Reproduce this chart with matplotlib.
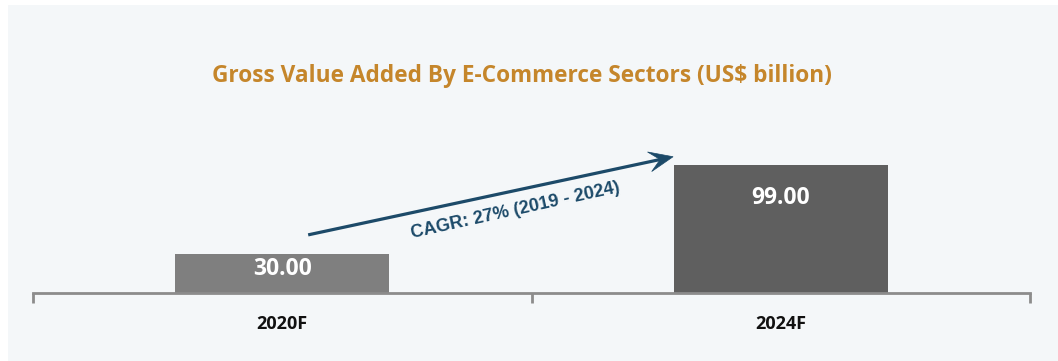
import matplotlib
matplotlib.use("Agg")
import numpy as np
import matplotlib.pyplot as plt
from matplotlib.patches import Rectangle, Polygon
from matplotlib.transforms import offset_copy

# Data
categories = ["2020F", "2024F"]
values = [30.00, 99.00]
bar_colors = ["#7f7f7f", "#5f5f5f"]
title = "Gross Value Added By E-Commerce Sectors (US$ billion)"
cagr_label = "CAGR: 27% (2019 - 2024)"

BG = "#f4f7f9"
ARROW = "#1c4a69"
W, H = 1058, 361
fig = plt.figure(figsize=(W / 100, H / 100), dpi=100)
fig.patch.set_facecolor("white")
fig.patches.append(Rectangle((8 / W, 0), 1 - 8 / W, 1 - 5 / H,
                             transform=fig.transFigure, facecolor=BG,
                             edgecolor="none", zorder=-10))

ax = fig.add_axes([33 / W, 68 / H, 997 / W, 155 / H])
ax.set_facecolor("none")
x = list(range(len(categories)))
bars = ax.bar(x, values, width=0.43, color=bar_colors, zorder=2)
ax.set_xlim(-0.5, len(categories) - 0.5)
ax.set_ylim(0, 120)

# value labels inside the top of each bar (gap below bar top, in points)
label_gaps = [2, 15]
for b, v, gap in zip(bars, values, label_gaps):
    tr = offset_copy(ax.transData, fig=fig, y=-gap, units="points")
    ax.text(b.get_x() + b.get_width() / 2, v, f"{v:.2f}", transform=tr,
            ha="center", va="top", color="white", fontsize=16.5,
            fontweight="bold", family="Open Sans", zorder=3)

for s in ["top", "right", "left"]:
    ax.spines[s].set_visible(False)
ax.spines["bottom"].set_color("#8c8c8c")
ax.spines["bottom"].set_linewidth(2)
ax.set_yticks([])
ax.set_xticks([-0.5, 0.5, 1.5], minor=False)
ax.set_xticklabels([])
ax.tick_params(axis="x", length=7, width=2, color="#8c8c8c", direction="out")
ax.set_xticks(x, minor=True)
ax.set_xticklabels(categories, minor=True)
ax.tick_params(axis="x", which="minor", length=0, pad=16)
for lbl in ax.get_xticklabels(minor=True):
    lbl.set_fontsize(13)
    lbl.set_fontweight("bold")
    lbl.set_family("Open Sans")
    lbl.set_color("#111111")

# Growth arrow between the two bars: shaft plus a swept "stealth" head
start = np.array([0.052, 45.0])
tip = np.array([0.784, 105.5])
p0 = ax.transData.transform(start)
p1 = ax.transData.transform(tip)
u = (p1 - p0) / np.hypot(*(p1 - p0))
n = np.array([-u[1], u[0]])
head_len, head_w, notch = 24.0, 10.0, 0.55
neck = p1 - notch * head_len * u
ax.plot(*ax.transData.inverted().transform(np.vstack([p0, neck + 2 * u])).T,
        color=ARROW, lw=2.3, solid_capstyle="butt", zorder=4)
head = np.vstack([p1,
                  p1 - head_len * u + head_w * n,
                  neck,
                  p1 - head_len * u - head_w * n])
ax.add_patch(Polygon(ax.transData.inverted().transform(head), closed=True,
                     facecolor=ARROW, edgecolor=ARROW, lw=0.5, zorder=5))
ax.text(0.468, 64, cagr_label, rotation=12.5, ha="center", va="center",
        color=ARROW, fontsize=13, fontweight="bold", family="Liberation Sans",
        rotation_mode="anchor")

fig.text(522 / W, 1 - 76 / H, title, ha="center", va="center",
         color="#c5862b", fontsize=16.3, fontweight="bold", family="Open Sans")

fig.savefig("out.png", dpi=100, facecolor=fig.get_facecolor())
